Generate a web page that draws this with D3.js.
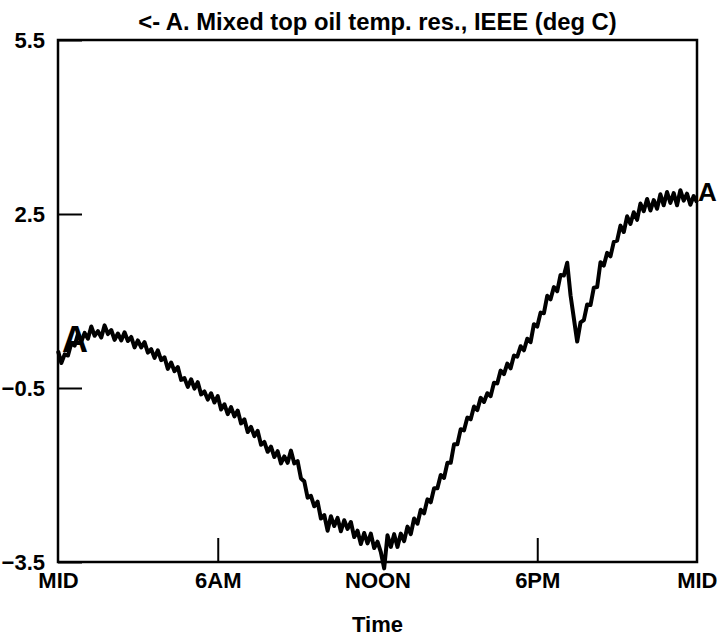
<!DOCTYPE html>
<html>
<head>
<meta charset="utf-8">
<script src="https://cdn.jsdelivr.net/npm/d3@7"></script>
<style>
  html, body { margin: 0; padding: 0; background: #fff; }
  svg { display: block; font-family: "Liberation Sans", Arial, Helvetica, sans-serif; font-weight: bold; }
</style>
</head>
<body>
<div id="chart"></div>
<script>
// readings, one every 1/8 hour from midnight to midnight (deg C)
const stepHours = 0.125;
const topOilRes = [
  0.14, -0.07, 0.08, 0.06, 0.27, 0.23, 0.43, 0.30, 0.45, 0.35,
  0.56, 0.40, 0.48, 0.37, 0.58, 0.43, 0.50, 0.33, 0.44, 0.32,
  0.46, 0.31, 0.38, 0.20, 0.32, 0.20, 0.29, 0.11, 0.17, 0.02,
  0.15, -0.02, 0.03, -0.17, -0.06, -0.21, -0.14, -0.36, -0.33, -0.48,
  -0.35, -0.51, -0.40, -0.61, -0.56, -0.70, -0.59, -0.75, -0.64, -0.87,
  -0.78, -0.95, -0.83, -0.99, -0.89, -1.11, -1.04, -1.26, -1.17, -1.33,
  -1.24, -1.48, -1.43, -1.60, -1.51, -1.69, -1.59, -1.80, -1.68, -1.79,
  -1.58, -1.80, -1.76, -2.06, -2.11, -2.39, -2.36, -2.54, -2.46, -2.75,
  -2.69, -2.96, -2.71, -2.88, -2.74, -2.97, -2.78, -2.93, -2.81, -3.07,
  -2.96, -3.19, -3.00, -3.18, -3.01, -3.26, -3.15, -3.33, -3.61, -3.04,
  -3.24, -3.02, -3.24, -3.01, -3.14, -2.89, -3.02, -2.75, -2.84, -2.60,
  -2.66, -2.42, -2.47, -2.23, -2.23, -2.00, -2.05, -1.79, -1.79, -1.47,
  -1.47, -1.21, -1.23, -1.01, -1.04, -0.82, -0.88, -0.67, -0.74, -0.59,
  -0.64, -0.41, -0.42, -0.20, -0.26, -0.08, -0.16, 0.06, 0.04, 0.22,
  0.15, 0.35, 0.29, 0.60, 0.56, 0.80, 0.79, 1.09, 1.03, 1.24,
  1.17, 1.45, 1.44, 1.66, 1.10, 0.70, 0.30, 0.63, 0.67, 0.94,
  0.93, 1.23, 1.24, 1.67, 1.61, 1.83, 1.77, 2.02, 2.04, 2.30,
  2.19, 2.46, 2.33, 2.53, 2.40, 2.68, 2.55, 2.76, 2.56, 2.74,
  2.59, 2.84, 2.65, 2.88, 2.69, 2.86, 2.65, 2.91, 2.73, 2.85,
  2.66, 2.81, 2.70
];

const yTicks = [5.5, 2.5, -0.5, -3.5];
const xTicks = [0, 6, 12, 18, 24];
const xTickLabels = ['MID', '6AM', 'NOON', '6PM', 'MID'];
const title = '<- A. Mixed top oil temp. res., IEEE (deg C)';
const xTitle = 'Time';
const seriesMark = 'A';

const width = 717;
const height = 637;
const margin = { top: 40, right: 20, bottom: 75, left: 58 };

const svg = d3.select('#chart')
  .append('svg')
  .attr('width', width)
  .attr('height', height);

const xScale = d3.scaleLinear()
  .domain([0, 24])
  .range([margin.left, width - margin.right]);

const yScale = d3.scaleLinear()
  .domain([-3.5, 5.5])
  .range([height - margin.bottom, margin.top]);

const plotW = xScale(24) - xScale(0);
const plotH = yScale(-3.5) - yScale(5.5);

// title
svg.append('text')
  .attr('x', xScale(12))
  .attr('y', 30)
  .attr('text-anchor', 'middle')
  .style('font-size', '23.8px')
  .text(title);

// y axis with inward ticks
const yAxis = svg.append('g')
  .attr('transform', `translate(${xScale(0)},0)`)
  .call(d3.axisLeft(yScale).tickValues(yTicks).tickSize(-24).tickPadding(13).tickFormat(d3.format('.1f')));
yAxis.select('.domain').remove();
yAxis.selectAll('line').attr('stroke', '#000').attr('stroke-width', 2);
yAxis.selectAll('text').attr('fill', '#000').style('font-size', '22px').style('font-family', 'inherit');

// x axis, ticks only at 6AM and 6PM
const xAxis = svg.append('g')
  .attr('transform', `translate(0,${yScale(-3.5)})`)
  .call(d3.axisBottom(xScale).tickValues(xTicks).tickSize(-24).tickPadding(10)
    .tickFormat((d, i) => xTickLabels[i]));
xAxis.select('.domain').remove();
xAxis.selectAll('.tick').filter(d => d % 24 === 0 || d === 12).select('line').remove();
xAxis.selectAll('line').attr('stroke', '#000').attr('stroke-width', 2);
xAxis.selectAll('text').attr('fill', '#000').style('font-size', '22px').style('font-family', 'inherit');
// last label sits against the page edge
xAxis.selectAll('.tick').filter(d => d === 24).select('text').attr('text-anchor', 'end').attr('x', 20);

svg.append('text')
  .attr('x', xScale(12))
  .attr('y', 632)
  .attr('text-anchor', 'middle')
  .style('font-size', '22px')
  .text(xTitle);

// frame
svg.append('rect')
  .attr('x', xScale(0))
  .attr('y', yScale(5.5))
  .attr('width', plotW)
  .attr('height', plotH)
  .attr('fill', 'none')
  .attr('stroke', '#000')
  .attr('stroke-width', 2.5);

// the trace
const line = d3.line()
  .x((d, i) => xScale(i * stepHours))
  .y(d => yScale(d));

svg.append('path')
  .datum(topOilRes)
  .attr('d', line)
  .attr('fill', 'none')
  .attr('stroke', '#000')
  .attr('stroke-width', 4)
  .attr('stroke-linejoin', 'round');

// curve markers at both ends
svg.append('text')
  .attr('x', xScale(0) + 4)
  .attr('y', yScale(topOilRes[0]) + 1)
  .style('font-size', '36px')
  .text(seriesMark);

svg.append('text')
  .attr('x', xScale(24) + 1)
  .attr('y', yScale(topOilRes[topOilRes.length - 1]) - 1)
  .style('font-size', '26px')
  .text(seriesMark);
</script>
</body>
</html>
